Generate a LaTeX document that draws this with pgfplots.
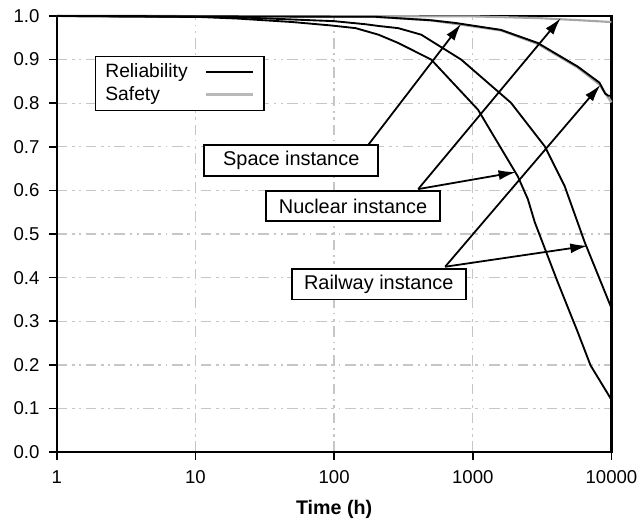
\documentclass[border=0pt]{standalone}
\usepackage{pgfplots}
\pgfplotsset{compat=1.18}
\usepackage{fontspec}
\setmainfont{Liberation Sans}
\usetikzlibrary{arrows.meta}
\begin{document}
\fontsize{14.5}{17}\selectfont
\begin{tikzpicture}
\useasboundingbox (-42.75pt,-53.25pt) rectangle (437.75pt,340.5pt);
\begin{semilogxaxis}[
  at={(0pt,0pt)}, anchor=south west,
  scale only axis,
  width=417.75pt, height=328.5pt,
  xmin=1, xmax=10000, ymin=0, ymax=1,
  clip=false,
  axis line style={line width=1.7pt},
  xtick={1,10,100,1000,10000},
  xticklabels={1,10,100,1000,10000},
  xminorticks=false,
  ytick={0,0.1,0.2,0.3,0.4,0.5,0.6,0.7,0.8,0.9,1.0},
  yticklabel style={xshift=-2pt, /pgf/number format/fixed, /pgf/number format/fixed zerofill, /pgf/number format/precision=1},
  /pgf/number format/assume math mode=true,
  tick align=outside, tick pos=left,
  major tick length=6pt,
  every tick/.style={black, line width=1.2pt},
  tick label style={font=\fontsize{14}{17}\selectfont},
  xticklabel style={yshift=-3pt},
  xmajorgrids, ymajorgrids,
  major grid style={gray!45, line width=1pt, dash pattern=on 8pt off 3.5pt on 2pt off 3.5pt on 1.2pt off 3.5pt},
  xlabel={\textbf{Time (h)}},
  xlabel style={font=\fontsize{14.8}{17}\selectfont, at={(axis description cs:0.5,0)}, anchor=center, yshift=-43.5pt},
  legend plot pos=right,
  legend cell align=left,
  legend style={at={(0.0682,0.9087)}, anchor=north west, draw=black, line width=1.2pt,
    font=\fontsize{14.5}{17}\selectfont, nodes={inner sep=0pt},
    inner xsep=7.5pt, inner ysep=5.5pt, row sep=4.4pt, column sep=12.75pt},
  legend image code/.code={\draw[#1] (0pt,0pt) -- (35pt,0pt);},
]
\addlegendimage{black, line width=1.4pt}
\addlegendentry{Reliability}
\addlegendimage{gray!55, line width=2.2pt}
\addlegendentry{Safety}

% top safety curve (gray)
\addplot[gray!70, line width=1.6pt, forget plot] coordinates {
(1,1.0) (1000,0.999) (3000,0.995) (6000,0.990) (10000,0.986)};
% space instance safety (gray)
\addplot[gray!70, line width=1.8pt, forget plot] coordinates {
(1,1.0) (200,0.998) (500,0.990) (1596,0.967) (2943,0.936) (5703,0.882) (8200,0.843) (10000,0.802)};
% space instance reliability
\addplot[black, line width=1.4pt, forget plot] coordinates {
(1,1.0) (200,0.998) (500,0.990) (746,0.984) (1596,0.968) (2943,0.938) (4093,0.911) (5703,0.884) (8200,0.847) (9000,0.822) (9500,0.817) (10000,0.817)};
% railway reliability
\addplot[black, line width=1.4pt, forget plot] coordinates {
(1,1.0) (20,0.997) (100,0.988) (168,0.981) (209,0.977) (290,0.972) (425,0.957) (824,0.900) (1884,0.801) (3304,0.701) (4596,0.610) (6400,0.482) (10000,0.33)};
% nuclear reliability
\addplot[black, line width=1.4pt, forget plot] coordinates {
(1,1.0) (10,0.998) (20,0.994) (50,0.986) (96,0.978) (143,0.972) (209,0.957) (290,0.938) (501,0.900) (1091,0.785) (2113,0.632) (2495,0.580) (2800,0.527) (4093,0.390) (5700,0.276) (7063,0.199) (10000,0.12)};

% annotations
\tikzset{annarrow/.style={line width=1.35pt, -{Latex[length=13pt,width=7.5pt]}}}
\draw[annarrow] (axis cs:177,0.705) -- (axis cs:824,0.982);
\draw[annarrow] (axis cs:404,0.603) -- (axis cs:4305,0.995);
\draw[annarrow] (axis cs:404,0.603) -- (axis cs:2045,0.642);
\draw[annarrow] (axis cs:632,0.425) -- (axis cs:8337,0.842);
\draw[annarrow] (axis cs:632,0.425) -- (axis cs:6725,0.473);

\tikzset{annbox/.style={draw, fill=white, line width=1.4pt, minimum width=131pt, minimum height=23pt, inner sep=2pt, font=\fontsize{15}{17}\selectfont}}
\node[annbox] at (axis cs:49.1,0.669) {Space instance};
\node[annbox, minimum height=22.5pt] at (axis cs:137,0.564) {Nuclear instance};
\node[annbox] at (axis cs:210,0.385) {Railway instance};
\end{semilogxaxis}
\end{tikzpicture}
\end{document}
